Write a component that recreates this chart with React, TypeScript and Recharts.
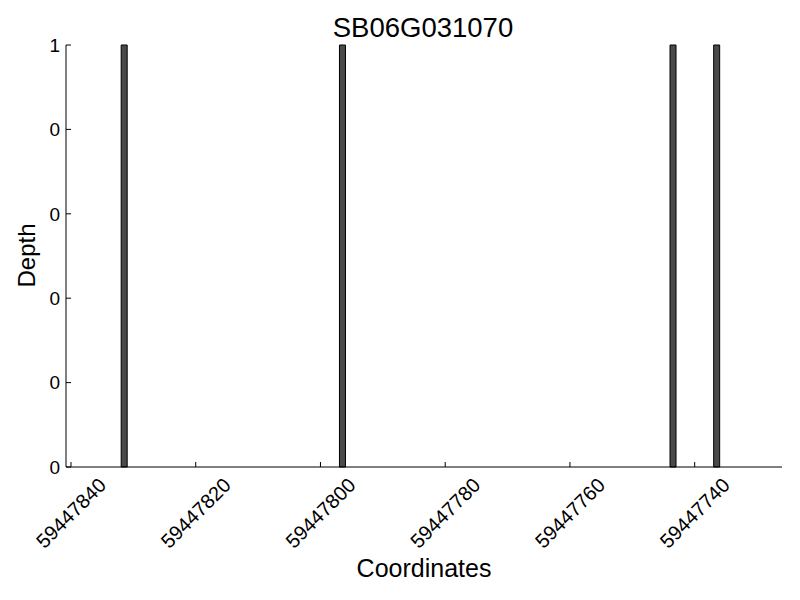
import { Bar, BarChart, Label, XAxis, YAxis } from "recharts";

const FONT = "'Liberation Sans', Arial, sans-serif";

// bar centres (bp) and read depth
const positions = [59447831.5, 59447796.5, 59447743.5, 59447736.5];
const depths = [1, 1, 1, 1];

const xTicks = [59447840, 59447820, 59447800, 59447780, 59447760, 59447740];
const yTicks = [0, 0.2, 0.4, 0.6, 0.8, 1];
const xDomain = [59447726, 59447840.8];

const data = positions.map((pos, i) => ({ pos, depth: depths[i] }));

function RotatedTick({ x, y, payload }: any) {
  const cy = y + 51;
  return (
    <text
      x={x}
      y={cy}
      textAnchor="middle"
      dominantBaseline="central"
      transform={`rotate(-45, ${x}, ${cy})`}
      fontSize={20}
      fontFamily={FONT}
      fill="#000"
    >
      {payload.value}
    </text>
  );
}

export default function App() {
  return (
    <div style={{ position: "absolute", left: 0, top: 0, width: 800, height: 600, background: "#fff" }}>
      <svg width={800} height={45} style={{ position: "absolute", left: 0, top: 0 }}>
        <text x={423} y={37} textAnchor="middle" fontSize={27.5} fontFamily={FONT} fill="#000">
          SB06G031070
        </text>
      </svg>
      <BarChart
        width={800}
        height={600}
        data={data}
        margin={{ top: 45, right: 18, left: 0, bottom: 0 }}
      >
        <XAxis
          dataKey="pos"
          type="number"
          domain={xDomain}
          allowDataOverflow
          reversed
          ticks={xTicks}
          interval={0}
          height={133}
          stroke="#000"
          tickSize={-5}
          tickMargin={0}
          tick={<RotatedTick />}
        >
          <Label
            content={({ viewBox }: any) => (
              <text
                x={viewBox.x + viewBox.width / 2}
                y={577}
                textAnchor="middle"
                fontSize={25}
                fontFamily={FONT}
                fill="#000"
              >
                Coordinates
              </text>
            )}
          />
        </XAxis>
        <YAxis
          type="number"
          domain={[0, 1]}
          ticks={yTicks}
          interval={0}
          width={66}
          stroke="#000"
          tickSize={-5}
          tickMargin={11}
          tickFormatter={(v: number) => `${Math.trunc(v)}`}
          tick={{ fill: "#000", fontSize: 19, fontFamily: FONT }}
        >
          <Label
            content={() => (
              <text
                x={35}
                y={255.5}
                textAnchor="middle"
                transform="rotate(-90, 35, 255.5)"
                fontSize={24}
                fontFamily={FONT}
                fill="#000"
              >
                Depth
              </text>
            )}
          />
        </YAxis>
        <Bar
          dataKey="depth"
          barSize={6}
          fill="#4a4a4a"
          stroke="#000"
          strokeWidth={1}
          isAnimationActive={false}
        />
      </BarChart>
    </div>
  );
}
